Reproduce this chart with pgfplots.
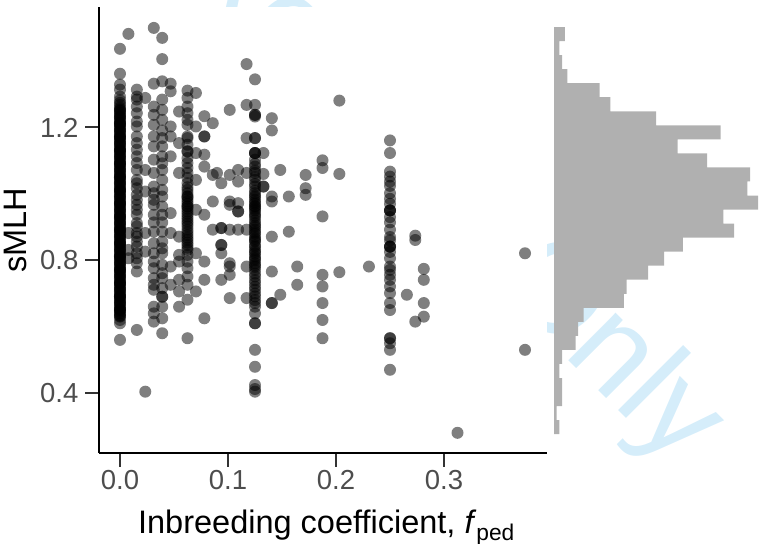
\documentclass[border=0pt]{standalone}
\usepackage{fontspec}
\setmainfont{Liberation Sans}
\usepackage{pgfplots}
\pgfplotsset{compat=1.18}
\definecolor{histc}{HTML}{B0B0B0}
\definecolor{tickc}{HTML}{4D4D4D}
\definecolor{wmark}{HTML}{D5EDFA}

\begin{document}
\begin{tikzpicture}
\begin{axis}[
  at={(99pt,90pt)}, anchor=south west, scale only axis,
  width=448pt, height=446pt,
  xmin=-0.01944, xmax=0.39537, ymin=0.2192, ymax=1.563,
  axis x line*=bottom, axis y line*=left,
  axis line style={line width=2.2pt, black},
  xtick={0,0.1,0.2,0.3}, xticklabels={0.0,0.1,0.2,0.3},
  ytick={0.4,0.8,1.2}, yticklabels={0.4,0.8,1.2},
  tick align=outside, major tick length=13.5pt,
  tick style={draw=black!80, line width=2pt},
  ticklabel style={font=\fontsize{27.5}{30}\selectfont, text=tickc, inner sep=0pt},
  xticklabel style={yshift=-4pt},
  yticklabel style={xshift=-7pt},
  xlabel={Inbreeding coefficient, \textit{f}\textsubscript{ped}},
  ylabel={sMLH},
  label style={font=\fontsize{32.5}{36}\selectfont},
  xlabel style={at={(axis description cs:0.5078,-0.1794)}, anchor=base},
  ylabel style={at={(axis description cs:-0.1616,0.5)}, anchor=base},
]
\addplot[only marks, mark=*, mark size=6pt,
         mark options={fill=black, draw=black, fill opacity=0.5, draw opacity=0}] coordinates {
 % f = 0
 (0,1.437) (0,1.362) (0,1.329) (0,1.314) (0,1.293) (0,1.274)
 (0,1.26) (0,1.25) (0,1.24) (0,1.23) (0,1.22) (0,1.21) (0,1.20) (0,1.19) (0,1.18) (0,1.17)
 (0,1.16) (0,1.15) (0,1.14) (0,1.13) (0,1.12) (0,1.11) (0,1.10) (0,1.09) (0,1.08) (0,1.07)
 (0,1.06) (0,1.05) (0,1.04) (0,1.03) (0,1.02) (0,1.01) (0,1.00) (0,0.99) (0,0.98) (0,0.97)
 (0,0.96) (0,0.95) (0,0.94) (0,0.93) (0,0.92) (0,0.91) (0,0.90) (0,0.89) (0,0.88) (0,0.87)
 (0,0.86) (0,0.85) (0,0.84) (0,0.83) (0,0.82) (0,0.81) (0,0.80) (0,0.79) (0,0.78) (0,0.77)
 (0,0.76) (0,0.75) (0,0.74) (0,0.73) (0,0.72) (0,0.71) (0,0.70) (0,0.69) (0,0.68) (0,0.67)
 (0,0.66) (0,0.65) (0,0.64) (0,0.63)
 (0,1.245) (0,1.225) (0,1.205) (0,1.185) (0,1.165) (0,1.145) (0,1.125) (0,1.105) (0,1.085)
 (0,1.065) (0,1.045) (0,1.025) (0,1.005) (0,0.985) (0,0.965) (0,0.945) (0,0.925) (0,0.905)
 (0,0.885) (0,0.865) (0,0.845) (0,0.825) (0,0.805) (0,0.785) (0,0.765) (0,0.745) (0,0.725)
 (0,0.705) (0,0.685) (0,0.665) (0,0.645)
 (0,1.255) (0,1.235) (0,1.215) (0,1.195) (0,1.175) (0,1.155) (0,1.135) (0,1.115) (0,1.095)
 (0,1.075) (0,1.055) (0,1.035) (0,1.015) (0,0.995) (0,0.975) (0,0.955) (0,0.935) (0,0.915)
 (0,0.895) (0,0.875) (0,0.855) (0,0.835) (0,0.815) (0,0.795) (0,0.775) (0,0.755) (0,0.735)
 (0,0.715) (0,0.695) (0,0.675) (0,0.655) (0,0.635)
 (0,1.21) (0,1.17) (0,1.13) (0,1.09) (0,1.05) (0,1.01) (0,0.97) (0,0.93) (0,0.89) (0,0.85)
 (0,0.81) (0,0.77) (0,0.73) (0,0.69) (0,0.65)
 (0,1.252) (0,1.232) (0,1.212) (0,1.192) (0,1.172) (0,1.152) (0,1.132) (0,1.112) (0,1.092)
 (0,1.072) (0,1.052) (0,1.032) (0,1.012) (0,0.992) (0,0.972) (0,0.952) (0,0.932) (0,0.912)
 (0,0.892) (0,0.872) (0,0.852) (0,0.832) (0,0.812) (0,0.792) (0,0.772) (0,0.752) (0,0.732)
 (0,0.712) (0,0.692) (0,0.672) (0,0.652) (0,0.632)
 (0,1.282) (0,1.268) (0,0.62) (0,0.61) (0,0.56)
 % 1/128
 (0.0078,1.482) (0.0078,0.882) (0.0078,0.831) (0.0078,0.806)
 % 1/64
 (0.0156,1.314) (0.0156,1.293) (0.0156,1.284) (0.0156,1.263) (0.0156,1.243) (0.0156,1.218)
 (0.0156,1.203) (0.0156,1.173) (0.0156,1.153) (0.0156,1.133) (0.0156,1.113) (0.0156,1.093)
 (0.0156,1.072) (0.0156,1.042) (0.0156,1.032) (0.0156,1.017) (0.0156,0.997) (0.0156,0.982)
 (0.0156,0.967) (0.0156,0.952) (0.0156,0.937) (0.0156,0.912) (0.0156,0.902) (0.0156,0.882)
 (0.0156,0.871) (0.0156,0.856) (0.0156,0.841) (0.0156,0.821) (0.0156,0.806) (0.0156,0.791)
 (0.0156,0.766) (0.0156,0.590)
 % 3/128
 (0.0234,1.289) (0.0234,1.072) (0.0234,1.007) (0.0234,0.882) (0.0234,0.826) (0.0234,0.404)
 % 1/32
 (0.0313,1.500) (0.0313,1.332) (0.0313,1.263) (0.0313,1.238) (0.0313,1.208) (0.0313,1.173)
 (0.0313,1.143) (0.0313,1.103) (0.0313,1.063) (0.0313,1.022) (0.0313,1.002) (0.0313,0.982)
 (0.0313,0.967) (0.0313,0.937) (0.0313,0.914) (0.0313,0.886) (0.0313,0.851) (0.0313,0.821)
 (0.0313,0.796) (0.0313,0.776) (0.0313,0.746) (0.0313,0.726) (0.0313,0.711) (0.0313,0.660)
 (0.0313,0.640) (0.0313,0.615)
 % 5/128
 (0.0391,1.470) (0.0391,1.406) (0.0391,1.339) (0.0391,1.284) (0.0391,1.253) (0.0391,1.223)
 (0.0391,1.191) (0.0391,1.168) (0.0391,1.143) (0.0391,1.113) (0.0391,1.092) (0.0391,1.072)
 (0.0391,1.042) (0.0391,1.012) (0.0391,0.992) (0.0391,0.962) (0.0391,0.937) (0.0391,0.914)
 (0.0391,0.886) (0.0391,0.856) (0.0391,0.836) (0.0391,0.821) (0.0391,0.786) (0.0391,0.761)
 (0.0391,0.746) (0.0391,0.716) (0.0391,0.690) (0.0391,0.690) (0.0391,0.660) (0.0391,0.625)
 (0.0391,0.580)
 % 3/64
 (0.0469,1.332) (0.0469,1.309) (0.0469,1.203) (0.0469,1.173) (0.0469,1.113) (0.0469,0.942)
 (0.0469,0.882) (0.0469,0.781) (0.0469,0.726)
 % 7/128
 (0.0547,1.248) (0.0547,1.153) (0.0547,1.063) (0.0547,0.871) (0.0547,0.816) (0.0547,0.796)
 (0.0547,0.741) (0.0547,0.706) (0.0547,0.660)
 % 1/16
 (0.0625,1.311) (0.0625,1.289) (0.0625,1.263) (0.0625,1.243) (0.0625,1.223) (0.0625,1.208)
 (0.0625,1.173) (0.0625,1.168) (0.0625,1.148) (0.0625,1.128) (0.0625,1.128) (0.0625,1.108)
 (0.0625,1.093) (0.0625,1.078) (0.0625,1.063) (0.0625,1.048) (0.0625,1.032) (0.0625,1.012)
 (0.0625,0.992) (0.0625,0.992) (0.0625,0.977) (0.0625,0.962) (0.0625,0.962) (0.0625,0.947)
 (0.0625,0.932) (0.0625,0.917) (0.0625,0.902) (0.0625,0.892) (0.0625,0.876) (0.0625,0.861)
 (0.0625,0.846) (0.0625,0.831) (0.0625,0.816) (0.0625,0.796) (0.0625,0.776) (0.0625,0.751)
 (0.0625,0.726) (0.0625,0.681) (0.0625,0.565)
 (0.0625,1.020) (0.0625,1.002) (0.0625,0.985) (0.0625,0.970) (0.0625,0.955) (0.0625,0.940)
 (0.0625,0.925) (0.0625,0.910) (0.0625,0.884) (0.0625,0.868) (0.0625,0.853) (0.0625,0.838)
 % 9/128
 (0.0703,1.304) (0.0703,1.203) (0.0703,1.123) (0.0703,1.042) (0.0703,0.952) (0.0703,0.821)
 (0.0703,0.706)
 % 5/64
 (0.0781,1.234) (0.0781,1.173) (0.0781,1.173) (0.0781,1.118) (0.0781,1.082) (0.0781,0.937)
 (0.0781,0.796) (0.0781,0.741) (0.0781,0.625)
 % 11/128 and nearby
 (0.0859,1.213) (0.0859,1.057) (0.0859,0.977) (0.0859,0.892) (0.0898,1.063)
 % 3/32
 (0.0938,1.032) (0.0938,0.897) (0.0938,0.897) (0.0938,0.846) (0.0938,0.846) (0.0938,0.821)
 (0.0938,0.741)
 % 13/128
 (0.1016,1.253) (0.1016,1.057) (0.1016,0.977) (0.1016,0.967) (0.1016,0.892) (0.1016,0.791)
 (0.1016,0.781) (0.1016,0.756) (0.1016,0.686)
 % 7/64
 (0.1094,1.072) (0.1094,1.037) (0.1094,0.972) (0.1094,0.947) (0.1094,0.947) (0.1094,0.892)
 % 15/128
 (0.1172,1.391) (0.1172,1.268) (0.1172,1.168) (0.1172,1.063) (0.1172,0.892) (0.1172,0.781)
 (0.1172,0.686)
 % 1/8
 (0.125,1.345) (0.125,1.268) (0.125,1.238) (0.125,1.238) (0.125,1.233) (0.125,1.168)
 (0.125,1.168) (0.125,1.123) (0.125,1.123) (0.125,1.123) (0.125,1.103) (0.125,1.090)
 (0.125,1.082) (0.125,1.070) (0.125,1.063) (0.125,1.050) (0.125,1.042) (0.125,1.030)
 (0.125,1.022) (0.125,1.010) (0.125,1.002) (0.125,0.990) (0.125,0.982) (0.125,0.970)
 (0.125,0.962) (0.125,0.962) (0.125,0.950) (0.125,0.942) (0.125,0.930) (0.125,0.912)
 (0.125,0.900) (0.125,0.892) (0.125,0.880) (0.125,0.871) (0.125,0.860) (0.125,0.856)
 (0.125,0.840) (0.125,0.831) (0.125,0.820) (0.125,0.811) (0.125,0.800) (0.125,0.791)
 (0.125,0.780) (0.125,0.771) (0.125,0.760) (0.125,0.751) (0.125,0.740) (0.125,0.731)
 (0.125,0.720) (0.125,0.711) (0.125,0.700) (0.125,0.691) (0.125,0.680) (0.125,0.671)
 (0.125,0.660) (0.125,0.640) (0.125,0.610) (0.125,0.610) (0.125,0.530) (0.125,0.479)
 (0.125,0.424) (0.125,0.412) (0.125,0.404)
 (0.125,0.995) (0.125,0.975) (0.125,0.955) (0.125,0.935) (0.125,0.920) (0.125,0.905)
 (0.125,0.885) (0.125,0.865) (0.125,0.845) (0.125,0.825) (0.125,0.805) (0.125,0.785)
 % 17/128 .. 11/64
 (0.1328,1.123) (0.1328,1.060) (0.1328,1.022) (0.1328,1.022)
 (0.1406,1.228) (0.1406,1.191) (0.1406,0.992) (0.1406,0.977) (0.1406,0.871) (0.1406,0.766)
 (0.1406,0.671) (0.1406,0.671)
 (0.1484,1.072) (0.1484,0.696)
 (0.1563,0.992) (0.1563,0.886)
 (0.1641,0.781) (0.1641,0.726)
 (0.1719,1.057) (0.1719,1.017) (0.1719,0.997)
 % 3/16
 (0.1875,1.101) (0.1875,1.078) (0.1875,0.932) (0.1875,0.756) (0.1875,0.721) (0.1875,0.671)
 (0.1875,0.620) (0.1875,0.565)
 (0.2031,1.281) (0.2031,1.060) (0.2031,0.764)
 (0.2305,0.781)
 % 1/4
 (0.25,1.161) (0.25,1.123) (0.25,1.067) (0.25,1.052) (0.25,1.037) (0.25,1.024) (0.25,1.002)
 (0.25,0.985) (0.25,0.970) (0.25,0.950) (0.25,0.950) (0.25,0.950) (0.25,0.930) (0.25,0.914)
 (0.25,0.892) (0.25,0.870) (0.25,0.860) (0.25,0.841) (0.25,0.841) (0.25,0.841) (0.25,0.825)
 (0.25,0.806) (0.25,0.781) (0.25,0.771) (0.25,0.756) (0.25,0.741) (0.25,0.721) (0.25,0.701)
 (0.25,0.671) (0.25,0.650) (0.25,0.565) (0.25,0.565) (0.25,0.550) (0.25,0.530) (0.25,0.470)
 (0.2656,0.696)
 (0.2734,0.874) (0.2734,0.861) (0.2734,0.615)
 (0.2813,0.774) (0.2813,0.741) (0.2813,0.671) (0.2813,0.630)
 (0.3125,0.280) (0.375,0.821) (0.375,0.530)
};
\end{axis}

% review watermark, visible only outside the scatter panel
\begin{scope}
  \clip (0pt,536pt) rectangle (759pt,543pt) (547pt,0pt) rectangle (759pt,543pt);
  \node[rotate=-45, anchor=base west, text=wmark, inner sep=0pt,
        font=\fontsize{127}{127}\selectfont] at (13.5pt,737.8pt) {For Review Only};
\end{scope}

\begin{axis}[
  at={(554pt,90pt)}, anchor=south west, scale only axis,
  width=205pt, height=446pt,
  xmin=0, xmax=76.3, ymin=0.2192, ymax=1.563,
  hide axis,
]
\addplot[xbar interval, fill=histc, draw=none] coordinates {
 (2,0.2759) (1,0.3182) (3,0.3605) (3,0.4028) (2,0.4451) (3,0.4874) (8,0.5297) (9,0.5720)
 (11,0.6143) (26,0.6566) (27,0.6989) (35,0.7412) (41,0.7835) (48,0.8258) (67,0.8681)
 (63,0.9104) (76,0.9527) (72,0.9950) (73,1.0373) (57,1.0796) (46,1.1219) (62,1.1642)
 (38,1.2065) (21,1.2488) (17,1.2911) (5,1.3334) (3,1.3757) (2,1.4180) (4,1.4603)
 (4,1.5026)
};
\end{axis}

\pgfresetboundingbox
\path[use as bounding box] (0pt,0pt) rectangle (759pt,543pt);
\end{tikzpicture}
\end{document}
